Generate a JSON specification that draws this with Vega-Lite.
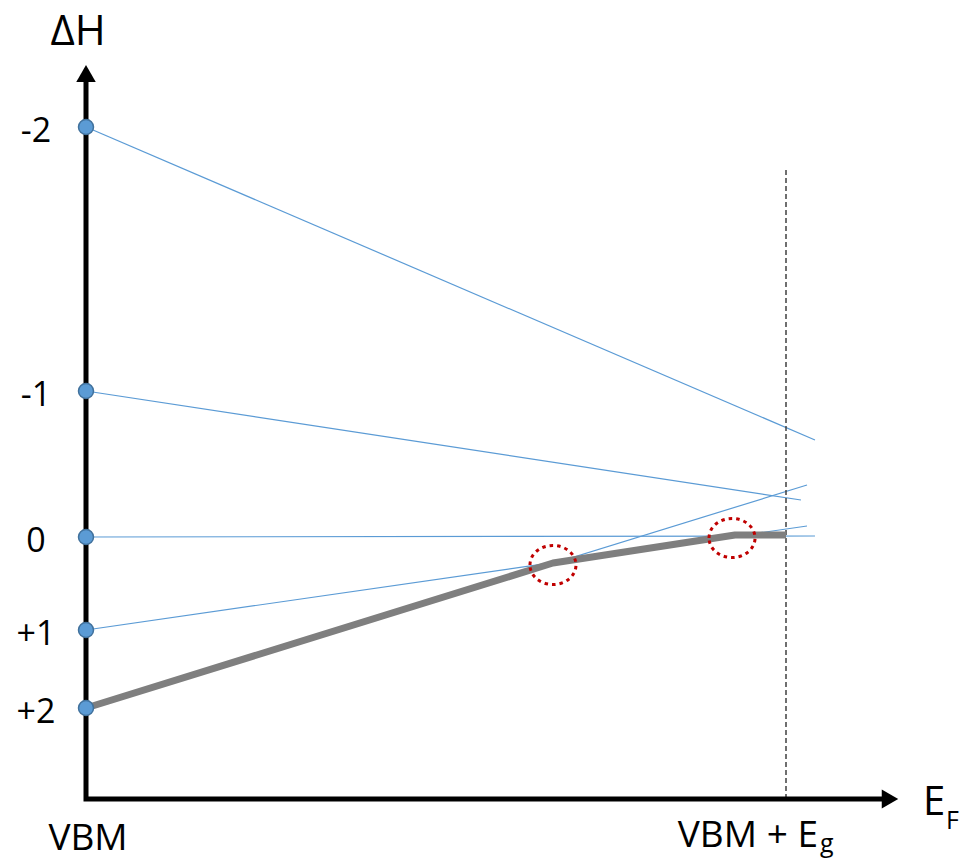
{
  "$schema": "https://vega.github.io/schema/vega-lite/v6.json",
  "autosize": {"type": "fit", "contains": "padding"},
  "width": 961,
  "height": 864,
  "padding": 0,
  "background": "white",
  "config": {"view": {"stroke": null}},
  "datasets": {
    "lines": [
      {"q": "-2", "x": 0, "y": 4.10}, {"q": "-2", "x": 1.0414, "y": 0.97},
      {"q": "-1", "x": 0, "y": 1.46}, {"q": "-1", "x": 1.0214, "y": 0.37},
      {"q": "0", "x": 0, "y": 0.00}, {"q": "0", "x": 1.0414, "y": 0.01},
      {"q": "+1", "x": 0, "y": -0.93}, {"q": "+1", "x": 1.03, "y": 0.11},
      {"q": "+2", "x": 0, "y": -1.71}, {"q": "+2", "x": 1.03, "y": 0.52}
    ],
    "envelope": [
      {"x": 0, "y": -1.71}, {"x": 0.6671, "y": -0.26}, {"x": 0.9271, "y": 0.02}, {"x": 1.0, "y": 0.02}
    ],
    "axes": [
      {"o": 1, "x": 0, "y": 4.57}, {"o": 2, "x": 0, "y": -2.62}, {"o": 3, "x": 1.1414, "y": -2.62}
    ],
    "arrows": [
      {"axis": "y", "x": 0, "y": 4.635},
      {"axis": "x", "x": 1.14857, "y": -2.62}
    ],
    "gap": [{"x": 1.0, "y": 3.67, "y2": -2.62}],
    "transitions": [{"x": 0.6671, "y": -0.28}, {"x": 0.9229, "y": -0.01}],
    "states": [
      {"label": "-2", "x": 0, "y": 4.10}, {"label": "-1", "x": 0, "y": 1.46}, {"label": "0", "x": 0, "y": 0.0},
      {"label": "+1", "x": 0, "y": -0.93}, {"label": "+2", "x": 0, "y": -1.71}
    ]
  },
  "encoding": {
    "x": {"field": "x", "type": "quantitative", "scale": {"domain": [-0.122857, 1.25], "nice": false, "zero": false}, "axis": null},
    "y": {"field": "y", "type": "quantitative", "scale": {"domain": [-3.27, 5.37], "nice": false, "zero": false}, "axis": null}
  },
  "layer": [
    {
      "data": {"name": "lines"},
      "mark": {"type": "line", "color": "#5B9BD5", "strokeWidth": 1.2},
      "encoding": {"detail": {"field": "q"}, "order": {"field": "x"}}
    },
    {
      "data": {"name": "gap"},
      "mark": {"type": "rule", "color": "#404040", "strokeWidth": 1.5, "strokeDash": [5, 3]},
      "encoding": {"y2": {"field": "y2"}}
    },
    {
      "data": {"name": "axes"},
      "mark": {"type": "line", "color": "black", "strokeWidth": 5, "strokeJoin": "miter", "strokeCap": "butt"},
      "encoding": {"order": {"field": "o"}}
    },
    {
      "data": {"name": "arrows"},
      "transform": [{"filter": "datum.axis == 'y'"}],
      "mark": {"type": "point", "shape": "triangle-up", "size": 380, "filled": true, "color": "black", "opacity": 1}
    },
    {
      "data": {"name": "arrows"},
      "transform": [{"filter": "datum.axis == 'x'"}],
      "mark": {"type": "point", "shape": "triangle-right", "size": 361, "filled": true, "color": "black", "opacity": 1}
    },
    {
      "data": {"name": "envelope"},
      "mark": {"type": "line", "color": "#7F7F7F", "strokeWidth": 7, "strokeJoin": "round"}
    },
    {
      "data": {"name": "states"},
      "mark": {"type": "point", "shape": "circle", "size": 225, "filled": true, "fill": "#5B9BD5", "stroke": "#41719C", "strokeWidth": 1.5, "opacity": 1}
    },
    {
      "data": {"name": "states"},
      "mark": {"type": "text", "font": "Open Sans", "fontSize": 34, "align": "center", "baseline": "middle", "dx": -50, "dy": 5, "color": "black"},
      "encoding": {"text": {"field": "label"}}
    },
    {
      "data": {"name": "transitions"},
      "mark": {"type": "point", "shape": "M-1,0A1,0.85,0,1,1,1,0A1,0.85,0,1,1,-1,0Z", "size": 2116, "filled": false, "stroke": "#C00000", "strokeWidth": 3, "strokeDash": [3.5, 4], "opacity": 1}
    },
    {
      "data": {"values": [{"t": "ΔH", "x": -0.0114, "y": 4.92}]},
      "mark": {"type": "text", "font": "Open Sans", "fontSize": 42, "align": "center", "baseline": "alphabetic", "color": "black"},
      "encoding": {"text": {"field": "t"}}
    },
    {
      "data": {"values": [{"t": "VBM", "x": 0.00286, "y": -3.13}]},
      "mark": {"type": "text", "font": "Open Sans", "fontSize": 37, "align": "center", "baseline": "alphabetic", "color": "black"},
      "encoding": {"text": {"field": "t"}}
    },
    {
      "data": {"values": [{"t": "VBM + E", "x": 1.04571, "y": -3.10}]},
      "mark": {"type": "text", "font": "Open Sans", "fontSize": 37, "align": "right", "baseline": "alphabetic", "color": "black"},
      "encoding": {"text": {"field": "t"}}
    },
    {
      "data": {"values": [{"t": "E", "x": 1.19571, "y": -2.78}]},
      "mark": {"type": "text", "font": "Open Sans", "fontSize": 40, "align": "left", "baseline": "alphabetic", "color": "black"},
      "encoding": {"text": {"field": "t"}}
    },
    {
      "data": {"values": [{"t": "F", "x": 1.22857, "y": -2.92}, {"t": "g", "x": 1.04857, "y": -3.15}]},
      "mark": {"type": "text", "font": "Open Sans", "fontSize": 25, "align": "left", "baseline": "alphabetic", "color": "black"},
      "encoding": {"text": {"field": "t"}}
    }
  ]
}
